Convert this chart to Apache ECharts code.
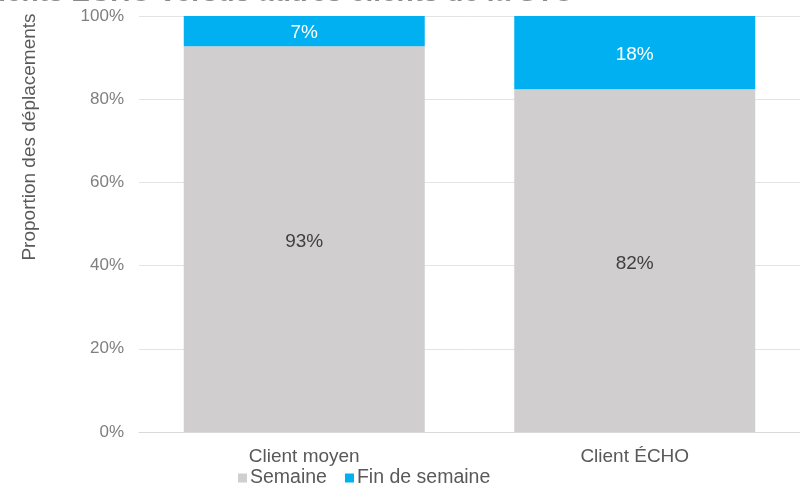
<!DOCTYPE html>
<html><head><meta charset="utf-8">
<script src="https://cdn.jsdelivr.net/npm/echarts@6/dist/echarts.min.js"></script>
<style>html,body{margin:0;padding:0;background:#fff}#c{width:800px;height:484px}</style>
</head><body><div id="c"></div>
<script>
const categories = ['Client moyen', 'Client ÉCHO'];
const semaine = [92.7, 82.4];
const finSemaine = [7.3, 17.6];
const yTicks = [0, 20, 40, 60, 80, 100];
const titleText = 'Clients ÉCHO versus autres clients de la STO';
const yAxisName = 'Proportion des déplacements';

const chart = echarts.init(document.getElementById('c'));
const font = 'Arial, "Liberation Sans", sans-serif';
chart.setOption({
  animation: false,
  textStyle: { fontFamily: font },
  graphic: [{
    type: 'text', x: 30, y: 137, rotation: Math.PI / 2,
    style: { text: yAxisName, fill: '#595959', font: '19px ' + font, textAlign: 'center', textVerticalAlign: 'middle' }
  }, {
    type: 'text', x: 575, y: 7,
    style: { text: titleText, fill: '#8a8a8a', font: 'bold 28px ' + font, textAlign: 'right', textVerticalAlign: 'bottom' }
  }],
  grid: { left: 139, right: 0, top: 16, bottom: 52, containLabel: false },
  legend: {
    bottom: -9, left: 233, itemWidth: 9, itemHeight: 9, itemGap: 18,
    icon: 'rect',
    textStyle: { fontSize: 19.5, color: '#595959', fontFamily: font, padding: [0,0,0,-2] },
    data: ['Semaine', 'Fin de semaine']
  },
  xAxis: {
    type: 'category', data: categories,
    axisLine: { lineStyle: { color: '#d9d9d9', width: 1 } },
    axisTick: { show: false },
    axisLabel: { fontSize: 19, color: '#595959', margin: 15 }
  },
  yAxis: {
    type: 'value', min: 0, max: 100, interval: 20,
    axisLabel: { fontSize: 17, color: '#7f7f7f', margin: 15, formatter: v => yTicks.includes(v) ? v + '%' : '' },
    splitLine: { lineStyle: { color: '#e3e3e3', width: 1 } },
    axisLine: { show: false }, axisTick: { show: false }
  },
  series: [
    {
      name: 'Semaine', type: 'bar', stack: 's', data: semaine, barWidth: 241,
      itemStyle: { color: '#d0cece' },
      label: { show: true, position: 'inside', offset: [0, 3], fontSize: 19, color: '#404040', formatter: p => Math.round(p.value) + '%' }
    },
    {
      name: 'Fin de semaine', type: 'bar', stack: 's', data: finSemaine, barWidth: 241,
      itemStyle: { color: '#00b0f0' },
      label: { show: true, position: 'inside', offset: [0, 2], fontSize: 19, color: '#ffffff', formatter: p => Math.round(p.value) + '%' }
    }
  ]
});
</script></body></html>
